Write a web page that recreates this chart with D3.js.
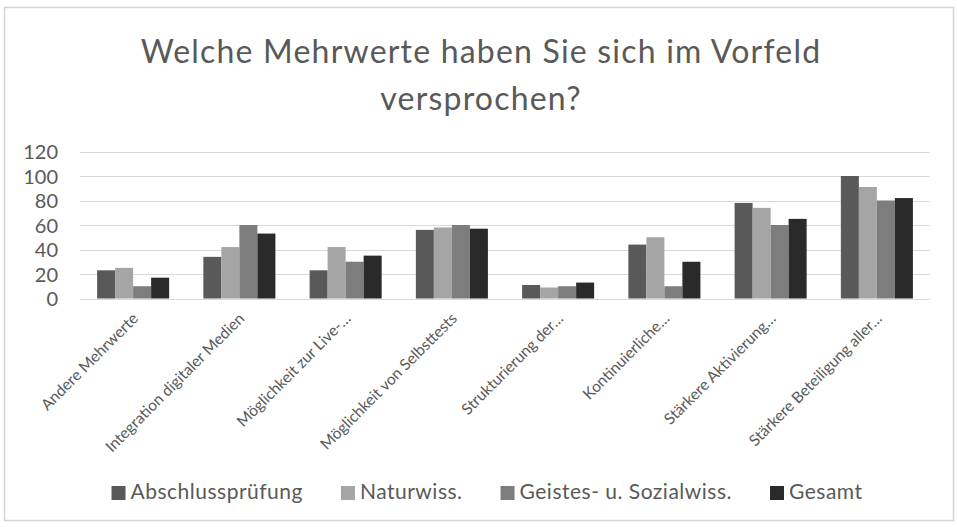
<!DOCTYPE html>
<html>
<head>
<meta charset="utf-8">
<script src="https://cdn.jsdelivr.net/npm/d3@7"></script>
<style>
  html, body { margin: 0; padding: 0; background: #ffffff; }
  svg { display: block; }
</style>
</head>
<body>
<svg id="chart" width="957" height="527"></svg>
<script>
const categories = [
  "Andere Mehrwerte",
  "Integration digitaler Medien",
  "Möglichkeit zur Live-…",
  "Möglichkeit von Selbsttests",
  "Strukturierung der…",
  "Kontinuierliche…",
  "Stärkere Aktivierung…",
  "Stärkere Beteiligung aller…"
];
const seriesNames = ["Abschlussprüfung", "Naturwiss.", "Geistes- u. Sozialwiss.", "Gesamt"];
const abschluss = [23, 34, 23, 56, 11, 44, 78, 100];
const naturwiss = [25, 42, 42, 58, 9, 50, 74, 91];
const geistes   = [10, 60, 30, 60, 10, 10, 60, 80];
const gesamt    = [17, 53, 35, 57, 13, 30, 65, 82];
const yTicks = [0, 20, 40, 60, 80, 100, 120];
const titleLines = ["Welche Mehrwerte haben Sie sich im Vorfeld", "versprochen?"];
const colors = ["#595959", "#a5a5a5", "#7d7d7d", "#2a2a2a"];

const seriesValues = [abschluss, naturwiss, geistes, gesamt];
const FONT = "Lato, 'Open Sans', sans-serif";
const svg = d3.select("#chart");

// frame
svg.append("rect").attr("x", 4.5).attr("y", 7.5).attr("width", 949).attr("height", 513)
  .attr("fill", "#fff").attr("stroke", "#d4d4d4").attr("stroke-width", 1.5);

// title
const title = svg.append("text").attr("text-anchor", "middle")
  .attr("font-family", FONT).attr("font-size", 32).attr("letter-spacing", 1.2)
  .attr("fill", "#595959");
titleLines.forEach((t, i) => {
  title.append("tspan").attr("x", 481).attr("y", 63 + i * 47).text(t);
});

const x0 = d3.scaleBand().domain(categories).range([80, 930]).paddingInner(0.322).paddingOuter(0.161);
const x1 = d3.scaleBand().domain(seriesNames).range([0, x0.bandwidth()]);
const y = d3.scaleLinear().domain([0, 120]).range([298.5, 151.5]);

// gridlines
svg.append("g").selectAll("line").data(yTicks).join("line")
  .attr("x1", 80).attr("x2", 930)
  .attr("y1", d => Math.round(y(d)) + 0.5).attr("y2", d => Math.round(y(d)) + 0.5)
  .attr("stroke", "#d9d9d9").attr("stroke-width", 1);

// y axis labels
const yAxis = d3.axisLeft(y).tickValues(yTicks).tickSize(0).tickPadding(0);
const gy = svg.append("g").attr("transform", "translate(58,0)").call(yAxis);
gy.select(".domain").remove();
gy.selectAll("text").attr("font-family", FONT).attr("font-size", 20).attr("fill", "#595959")
  .attr("dy", "0.36em");

// bars
const groups = svg.append("g").selectAll("g").data(categories).join("g")
  .attr("transform", d => `translate(${x0(d)},0)`);
groups.selectAll("rect")
  .data((c, ci) => seriesNames.map((s, si) => ({ s, si, v: seriesValues[si][ci] })))
  .join("rect")
  .attr("x", d => x1(d.s))
  .attr("width", x1.bandwidth())
  .attr("y", d => y(d.v))
  .attr("height", d => y(0) - y(d.v))
  .attr("fill", d => colors[d.si]);

// x labels
const xAxis = d3.axisBottom(x0).tickSize(0).tickPadding(0);
const gx = svg.append("g").attr("transform", `translate(0,${y(0)})`).call(xAxis);
gx.select(".domain").remove();
gx.selectAll("text")
  .attr("font-family", FONT).attr("font-size", 15.5).attr("fill", "#595959")
  .attr("text-anchor", "end")
  .attr("dy", "0")
  .attr("transform", "translate(6,21) rotate(-45)");

// legend
const legend = svg.append("g");
const items = legend.selectAll("g").data(seriesNames).join("g");
items.append("rect").attr("width", 14).attr("height", 14).attr("y", -13)
  .attr("fill", (d, i) => colors[i]);
items.append("text").attr("x", 19).attr("y", 0)
  .attr("font-family", FONT).attr("font-size", 21).attr("letter-spacing", 0.5)
  .attr("fill", "#595959").text(d => d);
const widths = [];
items.each(function () {
  const w = 19 + d3.select(this).select("text").node().getComputedTextLength();
  widths.push(w);
});
const gap = 38;
const total = widths.reduce((a, b) => a + b, 0) + gap * (widths.length - 1);
let start = 487 - total / 2;
items.attr("transform", (d, i) => {
  const t = `translate(${start},499)`;
  start += widths[i] + gap;
  return t;
});
</script>
</body>
</html>
